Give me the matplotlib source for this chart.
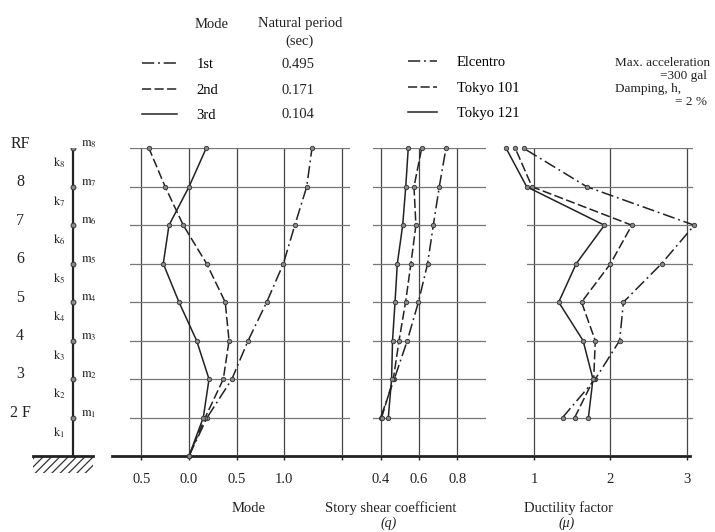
import matplotlib
matplotlib.use('Agg')
import matplotlib.pyplot as plt
from matplotlib.lines import Line2D

plt.rcParams['font.family'] = ['Liberation Serif', 'DejaVu Serif']
plt.rcParams['mathtext.fontset'] = 'stix'
plt.rcParams['hatch.linewidth'] = 0.9

# floor levels: 0 = ground, 1 = 2F ... 8 = RF
floors = [0, 1, 2, 3, 4, 5, 6, 7, 8]
floor_names = ['2 F', '3', '4', '5', '6', '7', '8', 'RF']

# mode shapes
mode_names = ['1st', '2nd', '3rd']
periods = ['0.495', '0.171', '0.104']
mode_1st = [0, 0.19, 0.45, 0.62, 0.815, 0.99, 1.11, 1.235, 1.29]
mode_2nd = [0, 0.17, 0.36, 0.42, 0.38, 0.185, -0.06, -0.25, -0.42]
mode_3rd = [0, 0.15, 0.21, 0.08, -0.105, -0.27, -0.21, 0.0, 0.18]
mode_ticks = [-0.5, 0.0, 0.5, 1.0, 1.6]
mode_ticklabels = ['0.5', '0.0', '0.5', '1.0', '']

# story shear coefficient, 2F..RF
wave_names = ['Elcentro', 'Tokyo 101', 'Tokyo 121']
shear_elcentro = [0.40, 0.471, 0.539, 0.597, 0.645, 0.675, 0.706, 0.741]
shear_tokyo101 = [0.405, 0.466, 0.496, 0.53, 0.558, 0.584, 0.574, 0.614]
shear_tokyo121 = [0.44, 0.457, 0.462, 0.475, 0.487, 0.515, 0.531, 0.544]
shear_ticks = [0.4, 0.6, 0.8]
shear_ticklabels = ['0.4', '0.6', '0.8']

# ductility factor, 2F..RF
duct_elcentro = [1.37, 1.80, 2.12, 2.17, 2.67, 3.10, 1.69, 0.86]
duct_tokyo101 = [1.53, 1.78, 1.80, 1.62, 2.00, 2.28, 0.97, 0.75]
duct_tokyo121 = [1.71, 1.77, 1.64, 1.32, 1.55, 1.92, 0.90, 0.63]
duct_ticks = [1, 2, 3]
duct_ticklabels = ['1', '2', '3']

W, H = 715, 532
fig = plt.figure(figsize=(W / 100, H / 100), dpi=100)
fig.patch.set_facecolor('white')

y_top, y_bot = 148.3, 456.0
ink = '#222222'
dashdot = (0, (8, 2.5, 1.2, 2.5))
dashed = (0, (6, 2.2))
styles = [dashdot, dashed, '-']
fs = 10.5


def px(x, y):
    return x / W, 1 - y / H


def panel(x0, x1):
    return fig.add_axes([x0 / W, (H - y_bot) / H, (x1 - x0) / W, (y_bot - y_top) / H])


# continuous base line
base = panel(112, 690)
base.set_xticks([])
base.set_yticks([])
for s in ['top', 'left', 'right']:
    base.spines[s].set_visible(False)
base.spines['bottom'].set_linewidth(2)
base.spines['bottom'].set_color(ink)
base.patch.set_visible(False)


def setup(ax, xlim, ticks, labels):
    ax.set_xlim(*xlim)
    ax.set_ylim(0, 8)
    ax.patch.set_visible(False)
    for s in ax.spines.values():
        s.set_visible(False)
    ax.set_yticks(range(1, 9))
    ax.tick_params(axis='y', length=0, labelleft=False)
    ax.set_xticks(ticks)
    ax.set_xticklabels(labels)
    ax.tick_params(axis='x', direction='out', length=3, width=1, color=ink,
                   pad=9, labelsize=fs, labelcolor=ink)
    ax.grid(axis='y', color='#777777', lw=0.9)
    ax.grid(axis='x', color='#444444', lw=0.9)
    ax.set_axisbelow(True)


mk = dict(marker='o', ms=3.2, mfc='#888888', mec='#333333', mew=0.6,
          color=ink, lw=1.1, clip_on=False)

ax1 = panel(130, 350)
setup(ax1, (-0.619, 1.689), mode_ticks, mode_ticklabels)
for vals, ls in zip([mode_1st, mode_2nd, mode_3rd], styles):
    ax1.plot(vals, floors, ls=ls, **mk)

ax2 = panel(373, 486)
setup(ax2, (0.360, 0.950), shear_ticks, shear_ticklabels)
for vals, ls in zip([shear_elcentro, shear_tokyo101, shear_tokyo121], styles):
    ax2.plot(vals, floors[1:], ls=ls, **mk)

ax3 = panel(527, 693)
setup(ax3, (0.904, 3.083), duct_ticks, duct_ticklabels)
for vals, ls in zip([duct_elcentro, duct_tokyo101, duct_tokyo121], styles):
    ax3.plot(vals, floors[1:], ls=ls, **mk)

# lumped mass model
below = 25 / ((y_bot - y_top) / 8)
axb = fig.add_axes([0, (H - y_bot - 25) / H, 130 / W, (y_bot + 25 - y_top) / H])
axb.set_xlim(0, 130)
axb.set_ylim(-below, 8)
axb.axis('off')
stick_x = 73
axb.plot([stick_x] * len(floors), floors, color=ink, lw=1.6)
axb.plot([stick_x] * 8, floors[1:], ls='none', marker='o', ms=3.5,
         mfc='#888888', mec='#333333', mew=0.7)
axb.fill_between([33, 93], -0.45, 0, facecolor='none', hatch='////',
                 edgecolor='#333333', lw=0)
axb.plot([33, 93], [0, 0], color=ink, lw=2)
for f, name in zip(floors[1:], floor_names):
    axb.text(20, f + 0.12, name, ha='center', va='center', fontsize=11.5, color=ink)
    axb.text(81, f + 0.1, r'$\mathrm{m}_{%d}$' % f, ha='left', va='center',
             fontsize=9, color=ink)
    axb.text(59, f - 0.38, r'$\mathrm{k}_{%d}$' % f, ha='center', va='center',
             fontsize=9, color=ink)

# legends
mode_handles = [Line2D([], [], color=ink, ls=ls, lw=1.1) for ls in styles]
fig.legend(mode_handles, mode_names, loc='upper left', bbox_to_anchor=px(142, 58),
           frameon=False, fontsize=fs, handlelength=2.4, handletextpad=1.35,
           labelspacing=0.85, borderpad=0, borderaxespad=0)
wave_handles = [Line2D([], [], color=ink, ls=ls, lw=1.1) for ls in styles]
fig.legend(wave_handles, wave_names, loc='upper left', bbox_to_anchor=px(408, 56),
           frameon=False, fontsize=fs, handlelength=2.0, handletextpad=1.35,
           labelspacing=0.85, borderpad=0, borderaxespad=0)

fig.text(*px(212, 24), 'Mode', ha='center', va='center', fontsize=fs, color=ink)
fig.text(*px(300, 24), 'Natural period', ha='center', va='center', fontsize=fs, color=ink)
fig.text(*px(300, 41), '(sec)', ha='center', va='center', fontsize=fs, color=ink)
for i, p in enumerate(periods):
    fig.text(*px(298, 65 + 25 * i), p, ha='center', va='center', fontsize=fs, color=ink)

fig.text(*px(615, 63), 'Max. acceleration', ha='left', va='center', fontsize=9.5, color=ink)
fig.text(*px(707, 76), '=300 gal', ha='right', va='center', fontsize=9.5, color=ink)
fig.text(*px(615, 89), 'Damping, h,', ha='left', va='center', fontsize=9.5, color=ink)
fig.text(*px(707, 102), '= 2 %', ha='right', va='center', fontsize=9.5, color=ink)

fig.text(*px(249, 508), 'Mode', ha='center', va='center', fontsize=fs, color=ink)
fig.text(*px(391, 508), 'Story shear coefficient', ha='center', va='center',
         fontsize=fs, color=ink)
fig.text(*px(389, 523), '(q)', ha='center', va='center', fontsize=10,
         style='italic', color=ink)
fig.text(*px(569, 508), 'Ductility factor', ha='center', va='center',
         fontsize=fs, color=ink)
fig.text(*px(567, 523), '(μ)', ha='center', va='center', fontsize=10,
         style='italic', color=ink)

fig.savefig('out.png', dpi=100, facecolor='white')
